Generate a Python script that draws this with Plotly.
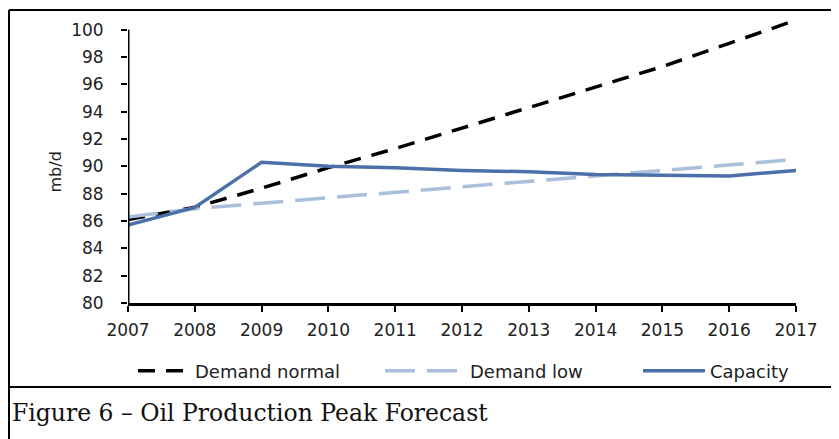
import plotly.graph_objects as go

years = [2007, 2008, 2009, 2010, 2011, 2012, 2013, 2014, 2015, 2016, 2017]
demand_normal = [86.1, 87.0, 88.4, 89.9, 91.3, 92.8, 94.3, 95.8, 97.3, 99.0, 100.7]
demand_low = [86.3, 86.9, 87.3, 87.7, 88.1, 88.5, 88.9, 89.3, 89.7, 90.1, 90.5]
capacity = [85.7, 87.0, 90.3, 90.0, 89.9, 89.7, 89.6, 89.4, 89.35, 89.3, 89.7]
y_ticks = list(range(80, 101, 2))
x_ticks = years
caption = "Figure 6 \u2013 Oil Production Peak Forecast"

W, H = 839, 439
OFF = 8  # page body margin
L, T = 128 - OFF, 16 - OFF
R = W - (796 - OFF)
B = H - (303 - OFF)
pw, ph = W - L - R, H - T - B

def px(x):
    # page pixel x -> paper
    return (x - OFF - L) / pw

def py(y):
    # page pixel y -> paper
    return ((H - B) - (y - OFF)) / ph

fig = go.Figure()
fig.add_trace(go.Scatter(x=years, y=demand_normal, mode="lines", name="Demand normal",
                         legend="legend",
                         line=dict(color="#000000", width=3.5, dash="17px,11px")))
fig.add_trace(go.Scatter(x=years, y=demand_low, mode="lines", name="Demand low",
                         legend="legend2",
                         line=dict(color="#a9bfdc", width=3.5, dash="30px,12px")))
fig.add_trace(go.Scatter(x=years, y=capacity, mode="lines", name="Capacity",
                         legend="legend3",
                         line=dict(color="#4b6fa8", width=3.5)))

tickfont = dict(family="DejaVu Sans", size=17, color="#222222")
legfont = dict(family="DejaVu Sans", size=18, color="#222222")

def leg(x, iw):
    return dict(orientation="h", x=px(x), y=py(371), xanchor="left", yanchor="middle",
                itemwidth=iw, font=legfont, bgcolor="rgba(0,0,0,0)")

fig.update_layout(
    width=W, height=H,
    margin=dict(l=L, r=R, t=T, b=B, autoexpand=False),
    paper_bgcolor="white", plot_bgcolor="white",
    xaxis=dict(range=[2007, 2017], tickvals=x_ticks, ticktext=[str(v) for v in x_ticks],
               showgrid=False, zeroline=False, showline=True, linecolor="black", linewidth=3,
               ticks="outside", ticklen=6, tickwidth=2, tickcolor="black", tickfont=tickfont,
               ticklabelstandoff=4),
    yaxis=dict(range=[80, 101], tickvals=y_ticks, showgrid=False, zeroline=False, showline=False,
               ticks="outside", ticklen=6, tickwidth=2, tickcolor="black", tickfont=tickfont,
               ticklabelstandoff=14),
    legend=leg(133, 52),
    legend2=leg(380, 80),
    legend3=leg(638, 62),
    showlegend=True,
)

# y axis line from 80 to 100
fig.add_shape(type="line", xref="x", yref="y", x0=2007, x1=2007, y0=80, y1=100,
              line=dict(color="black", width=3))
# frame lines
fig.add_shape(type="line", xref="paper", yref="paper", x0=px(9), x1=px(850), y0=py(10), y1=py(10),
              line=dict(color="black", width=2))
fig.add_shape(type="line", xref="paper", yref="paper", x0=px(9), x1=px(9), y0=py(10), y1=py(450),
              line=dict(color="black", width=2))
fig.add_shape(type="line", xref="paper", yref="paper", x0=px(9), x1=px(850), y0=py(387), y1=py(387),
              line=dict(color="black", width=2))

fig.add_annotation(text="mb/d", xref="paper", yref="paper", x=px(43), y=py(172),
                   showarrow=False, textangle=-90,
                   font=dict(family="DejaVu Sans", size=16, color="#222222"))
fig.add_annotation(text=caption, xref="paper", yref="paper", x=px(10), y=py(413),
                   xanchor="left", yanchor="middle", showarrow=False,
                   font=dict(family="DejaVu Serif", size=23.5, color="#111111"))

fig.write_html("out.html")
